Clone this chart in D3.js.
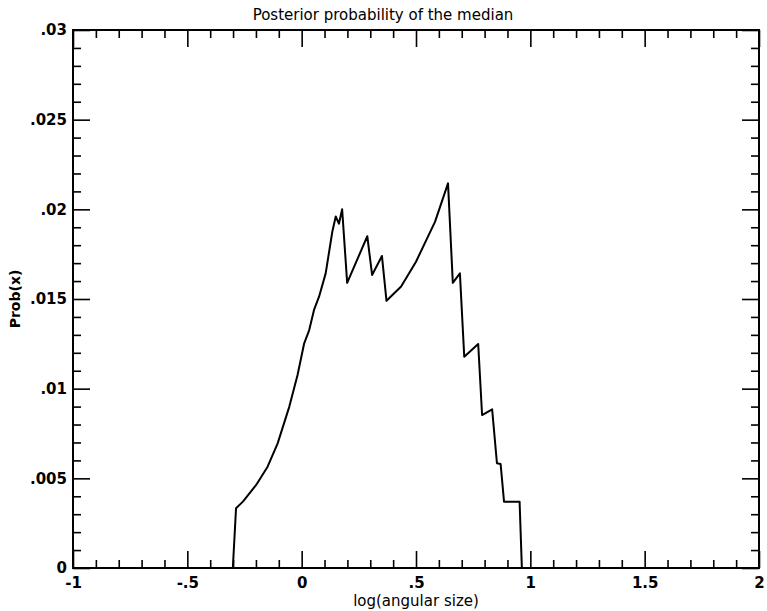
<!DOCTYPE html>
<html><head><meta charset="utf-8">
<script src="https://cdn.jsdelivr.net/npm/d3@7"></script>
<style>
body{margin:0;background:#fff;}
svg{display:block;}
</style></head>
<body>
<script>
// Data
const xValues = [-1, -0.301, -0.287, -0.257, -0.199, -0.149, -0.105, -0.054, -0.018, 0.011, 0.033, 0.054, 0.076, 0.105, 0.134, 0.149, 0.163, 0.177, 0.199, 0.287, 0.308, 0.351, 0.371, 0.435, 0.500, 0.583, 0.640, 0.661, 0.692, 0.711, 0.772, 0.789, 0.833, 0.854, 0.870, 0.885, 0.953, 0.963, 2];
const yValues = [0, 0, 0.00333, 0.0037, 0.00463, 0.00565, 0.00695, 0.0090, 0.01076, 0.01253, 0.01327, 0.01439, 0.01513, 0.01643, 0.01875, 0.0196, 0.0192, 0.0200, 0.0159, 0.0185, 0.01634, 0.0174, 0.0149, 0.0157, 0.01708, 0.0193, 0.02145, 0.0159, 0.01643, 0.01178, 0.01249, 0.00853, 0.00885, 0.00584, 0.0058, 0.0037, 0.0037, 0, 0];
const xMajorTicks = [-1, -0.5, 0, 0.5, 1, 1.5, 2];
const xTickLabels = ["-1", "-.5", "0", ".5", "1", "1.5", "2"];
const yMajorTicks = [0, 0.005, 0.01, 0.015, 0.02, 0.025, 0.03];
const yTickLabels = ["0", ".005", ".01", ".015", ".02", ".025", ".03"];
const titleText = "Posterior probability of the median";
const xLabel = "log(angular size)";
const yLabel = "Prob(x)";

const W = 767, H = 611;
const m = {left: 73, right: 8, top: 30, bottom: 43};
const svg = d3.select("body").append("svg").attr("width", W).attr("height", H);

const x = d3.scaleLinear().domain([-1, 2]).range([m.left, W - m.right]);
const y = d3.scaleLinear().domain([0, 0.03]).range([H - m.bottom, m.top]);

const xMinor = d3.range(-1, 2.0001, 0.1).filter(v => !xMajorTicks.some(t => Math.abs(t - v) < 1e-6));
const yMinor = d3.range(0, 0.03001, 0.001).filter(v => !yMajorTicks.some(t => Math.abs(t - v) < 1e-9));

const font = "'DejaVu Sans', sans-serif";
function style(g){
  g.select(".domain").remove();
  g.selectAll("line").attr("stroke", "#000").attr("stroke-width", 1.6);
  g.selectAll("text").attr("font-family", font).attr("font-size", 15).attr("font-weight", "bold").attr("fill", "#000");
}
const MAJ = 17, MIN = 8;
const bottomY = H - m.bottom, rightX = W - m.right;

// bottom
svg.append("g").attr("transform", `translate(0,${bottomY})`)
  .call(d3.axisBottom(x).tickValues(xMajorTicks).tickSize(-MAJ).tickPadding(9).tickFormat((d,i)=>xTickLabels[i])).call(style);
svg.append("g").attr("transform", `translate(0,${bottomY})`)
  .call(d3.axisBottom(x).tickValues(xMinor).tickSize(-MIN).tickFormat("")).call(style);
// top
svg.append("g").attr("transform", `translate(0,${m.top})`)
  .call(d3.axisTop(x).tickValues(xMajorTicks).tickSize(-MAJ).tickFormat("")).call(style);
svg.append("g").attr("transform", `translate(0,${m.top})`)
  .call(d3.axisTop(x).tickValues(xMinor).tickSize(-MIN).tickFormat("")).call(style);
// left
svg.append("g").attr("transform", `translate(${m.left},0)`)
  .call(d3.axisLeft(y).tickValues(yMajorTicks).tickSize(-MAJ).tickPadding(6).tickFormat((d,i)=>yTickLabels[i])).call(style);
svg.append("g").attr("transform", `translate(${m.left},0)`)
  .call(d3.axisLeft(y).tickValues(yMinor).tickSize(-MIN).tickFormat("")).call(style);
// right
svg.append("g").attr("transform", `translate(${rightX},0)`)
  .call(d3.axisRight(y).tickValues(yMajorTicks).tickSize(-MAJ).tickFormat("")).call(style);
svg.append("g").attr("transform", `translate(${rightX},0)`)
  .call(d3.axisRight(y).tickValues(yMinor).tickSize(-MIN).tickFormat("")).call(style);

// frame
svg.append("rect").attr("x", m.left).attr("y", m.top)
  .attr("width", rightX - m.left).attr("height", bottomY - m.top)
  .attr("fill", "none").attr("stroke", "#000").attr("stroke-width", 2);

// curve
const pts = xValues.map((v,i)=>[v, yValues[i]]);
svg.append("path").datum(pts)
  .attr("d", d3.line().x(d=>x(d[0])).y(d=>y(d[1])))
  .attr("fill", "none").attr("stroke", "#000").attr("stroke-width", 2).attr("stroke-linejoin", "round");

// titles
svg.append("text").attr("x", 383).attr("y", 20).attr("text-anchor", "middle")
  .attr("font-family", font).attr("font-size", 15).text(titleText);
svg.append("text").attr("x", x(0.5)).attr("y", 606).attr("text-anchor", "middle")
  .attr("font-family", font).attr("font-size", 15).text(xLabel);
svg.append("text").attr("transform", `translate(20,${(m.top + bottomY)/2}) rotate(-90)`)
  .attr("text-anchor", "middle").attr("font-family", font).attr("font-size", 14).attr("font-weight", "bold").text(yLabel);
</script>
</body></html>
